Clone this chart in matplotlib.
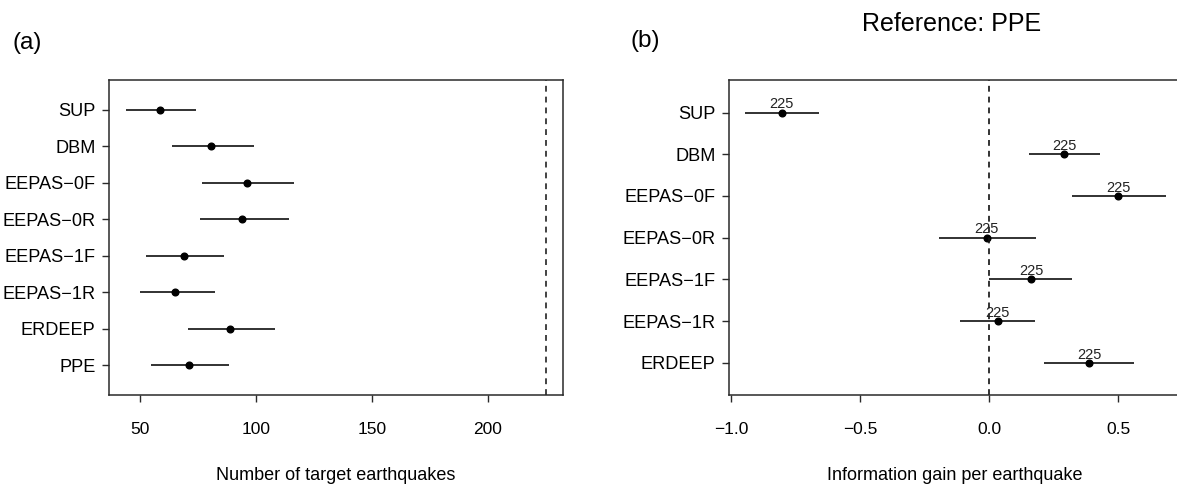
import numpy as np
import matplotlib
matplotlib.use('Agg')
from matplotlib import pyplot as plt

plt.rcParams['font.family'] = ['Liberation Sans', 'DejaVu Sans']

# panel (a): number of target earthquakes expected by each model
models_a = ['SUP', 'DBM', 'EEPAS\u22120F', 'EEPAS\u22120R', 'EEPAS\u22121F', 'EEPAS\u22121R', 'ERDEEP', 'PPE']
a_mid = [58.5, 80.7, 96.2, 94.0, 68.9, 65.1, 89.0, 71.2]
a_lo = [43.8, 63.9, 76.9, 75.8, 52.7, 49.9, 70.8, 54.7]
a_hi = [74.2, 99.2, 116.4, 114.3, 86.3, 82.3, 108.3, 88.2]
n_observed = 225

# panel (b): information gain per earthquake, reference PPE
models_b = ['SUP', 'DBM', 'EEPAS\u22120F', 'EEPAS\u22120R', 'EEPAS\u22121F', 'EEPAS\u22121R', 'ERDEEP']
b_mid = [-0.803, 0.291, 0.500, -0.009, 0.162, 0.033, 0.388]
b_lo = [-0.945, 0.155, 0.320, -0.193, 0.0, -0.111, 0.214]
b_hi = [-0.659, 0.431, 0.686, 0.180, 0.320, 0.176, 0.562]
b_n = [225, 225, 225, 225, 225, 225, 225]

W, H = 1177, 486
fig = plt.figure(figsize=(W / 100, H / 100), dpi=100)

def px_axes(x0, x1, y0, y1):
    return fig.add_axes([x0 / W, 1 - y1 / H, (x1 - x0) / W, (y1 - y0) / H])

def style(ax):
    for s in ax.spines.values():
        s.set_linewidth(1.1)
        s.set_color('#2a2a2a')
    ax.tick_params(direction='out', length=5, width=1.0, color='#2a2a2a')
    ax.tick_params(axis='x', labelsize=12.5, pad=14.5)
    ax.tick_params(axis='y', labelsize=13.1, pad=5)

dash = (0, (3.5, 3))

# ---- (a)
ax1 = px_axes(109.3, 562.7, 80, 395.3)
ya = np.arange(len(models_a), 0, -1)
ax1.hlines(ya, a_lo, a_hi, color='#222222', linewidth=1.3)
ax1.plot(a_mid, ya, 'o', color='black', markersize=4.8)
ax1.axvline(n_observed, color='#222222', linestyle=dash, linewidth=1.2)
ax1.set_xlim(36.8, 232.2)
ax1.set_ylim(0.18, len(models_a) + 0.82)
ax1.set_xticks([50, 100, 150, 200])
ax1.set_yticks(ya)
ax1.set_yticklabels(models_a)
style(ax1)
fig.text(336 / W, 1 - 475 / H, 'Number of target earthquakes', ha='center', va='center', fontsize=13)
fig.text(26.7 / W, 1 - 42.5 / H, '(a)', ha='center', va='center', fontsize=17.5)

# ---- (b)
ax2 = px_axes(729.3, 1183, 80, 395.3)
yb = np.arange(len(models_b), 0, -1)
ax2.hlines(yb, b_lo, b_hi, color='#222222', linewidth=1.3)
ax2.plot(b_mid, yb, 'o', color='black', markersize=4.8)
for x, y, n in zip(b_mid, yb, b_n):
    ax2.annotate(str(n), (x, y), xytext=(0, 3), textcoords='offset points',
                 ha='center', va='baseline', fontsize=10.5, color='#222222')
ax2.axvline(0, color='#111111', linestyle=dash, linewidth=1.2)
ax2.set_xlim(-1.0066, 0.751)
ax2.set_ylim(0.22, len(models_b) + 0.78)
ax2.set_xticks([-1.0, -0.5, 0.0, 0.5])
ax2.set_xticklabels(['\u22121.0', '\u22120.5', '0.0', '0.5'])
ax2.set_yticks(yb)
ax2.set_yticklabels(models_b)
style(ax2)
fig.text(955 / W, 1 - 475 / H, 'Information gain per earthquake', ha='center', va='center', fontsize=13)
fig.text(645.5 / W, 1 - 41.5 / H, '(b)', ha='center', va='center', fontsize=17.5)
fig.text(952 / W, 1 - 24 / H, 'Reference: PPE', ha='center', va='center', fontsize=18)

plt.savefig('out.png', dpi=100)
